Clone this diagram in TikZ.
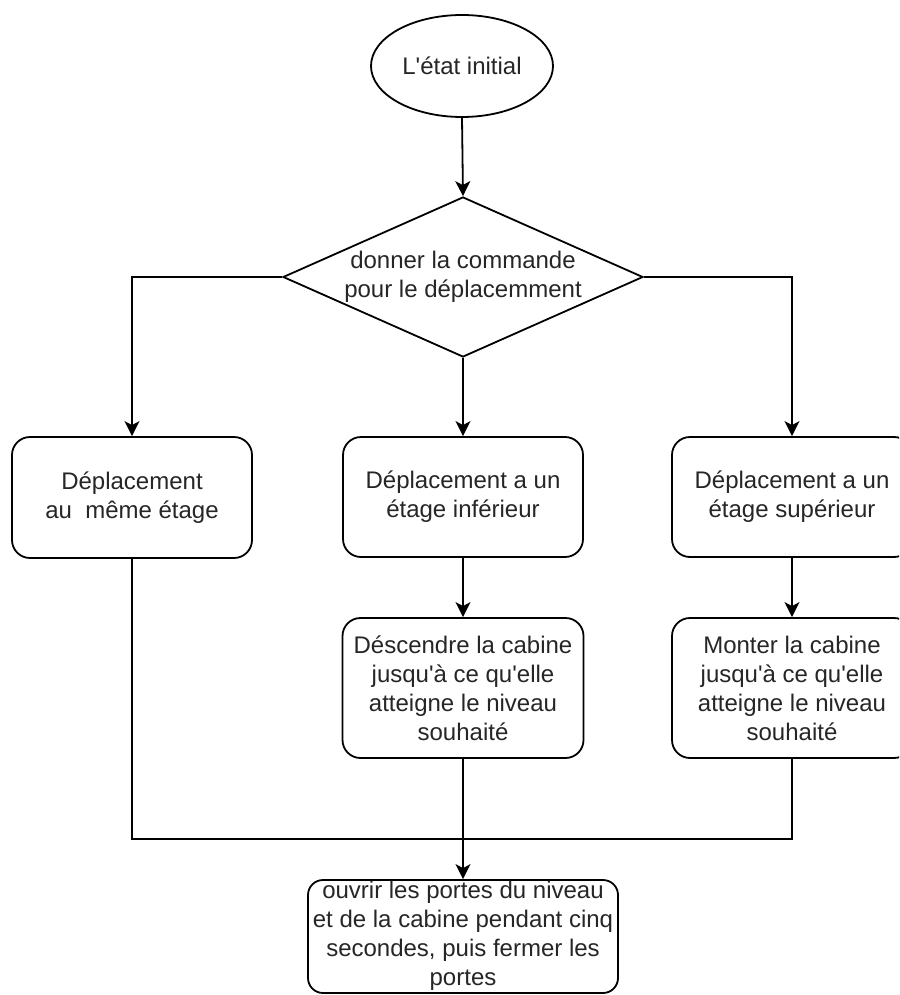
\documentclass[tikz,border=0pt]{standalone}
\usepackage{fontspec}
\newfontfamily\dfont{Liberation Sans}
\usetikzlibrary{shapes.geometric,arrows.meta}
\definecolor{txt}{HTML}{262626}
\begin{document}
\begin{tikzpicture}[x=1pt,y=-1pt,
  every node/.style={font=\dfont\fontsize{24}{29}\selectfont, text=txt, align=center, inner sep=0pt},
  lw/.style={line width=1.8pt, draw=black},
  stepbox/.style={lw, rectangle, rounded corners=18pt},
  conn/.style={lw, -{Stealth[length=15pt,width=15pt,inset=4pt]}},
  plain/.style={lw}]
\clip (0,0) rectangle (899,995);
\fill[white] (0,0) rectangle (899,995);
\node[lw, ellipse, minimum width=182pt, minimum height=102pt] (start) at (462,66) {L'état initial};
\node[lw, diamond, minimum width=360pt, minimum height=160pt, aspect=2.25] (dec) at (463,277) {};
\node at (463,277) {donner la commande\\pour le déplacemment};
\node[stepbox, minimum width=240pt, minimum height=121pt] (same) at (132,497.5) {Déplacement\\au\ \ même étage};
\node[stepbox, minimum width=240pt, minimum height=120pt] (down) at (463,497) {Déplacement a un\\étage inférieur};
\node[stepbox, minimum width=240pt, minimum height=120pt] (up) at (792,497) {Déplacement a un\\étage supérieur};
\node[stepbox, minimum width=241pt, minimum height=140pt] (descend) at (463,688) {Déscendre la cabine\\jusqu'à ce qu'elle\\atteigne le niveau\\souhaité};
\node[stepbox, minimum width=240pt, minimum height=140pt] (monter) at (792,688) {Monter la cabine\\jusqu'à ce qu'elle\\atteigne le niveau\\souhaité};
\node[stepbox, rounded corners=15pt, minimum width=310pt, minimum height=113pt] (open) at (463,936.5) {};
\node at (463,936) {ouvrir les portes du niveau\\et de la cabine pendant cinq\\secondes, puis fermer les\\portes};
\coordinate (j) at (463,839);
\draw[conn] (start.south) -- (dec.north);
\draw[conn] (dec.west) -| (same.north);
\draw[conn] (dec.south) -- (down.north);
\draw[conn] (dec.east) -| (up.north);
\draw[conn] (down.south) -- (descend.north);
\draw[conn] (up.south) -- (monter.north);
\draw[plain] (same.south) |- (j);
\draw[plain] (monter.south) |- (j);
\draw[conn] (descend.south) -- (open.north);
\end{tikzpicture}
\end{document}
